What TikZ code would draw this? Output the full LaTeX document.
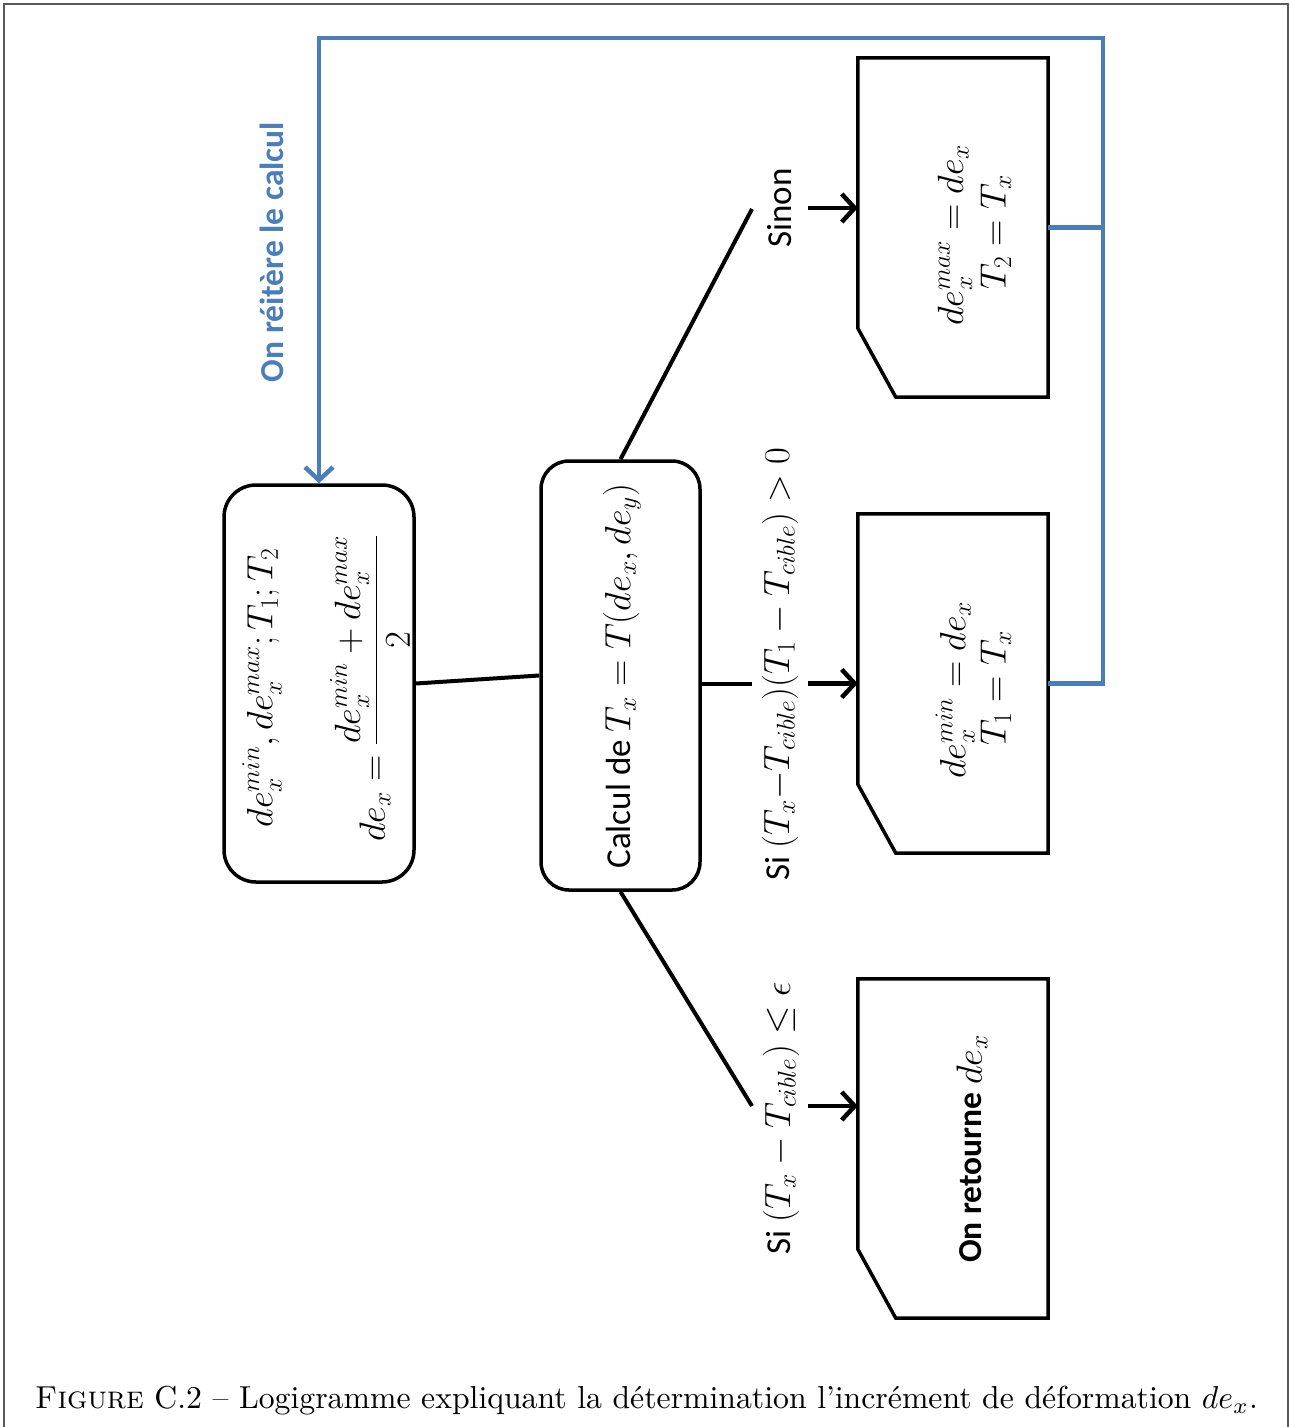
\RequirePackage{fix-cm}
\documentclass[tikz,border=0pt]{standalone}
\usepackage{fontspec}
\newfontfamily\carlito{Carlito}
\usetikzlibrary{arrows.meta}
\definecolor{loopblue}{RGB}{74,126,187}
\definecolor{framegray}{RGB}{90,90,90}
\newcommand{\tsz}{\fontsize{35}{40}\selectfont}
\newcommand{\bsz}{\fontsize{33.5}{38}\selectfont}
\newcommand{\msz}{\fontsize{36.5}{42}\selectfont}
\newcommand{\M}[1]{{\msz$#1$}}
\tikzset{
  box/.style={draw, line width=3.5pt, rounded corners=32pt, inner sep=0pt},
  cutbox/.style={inner sep=0pt, minimum width=190pt, minimum height=339pt},
  outline/.style={line width=3.5pt, line join=miter},
  link/.style={line width=4pt},
  flow/.style={line width=4.5pt, -{Straight Barb[length=13pt,width=28pt,line width=4.5pt]}},
  loopline/.style={draw=loopblue, line width=4.5pt},
  lbl/.style={rotate=90, inner sep=0pt, font=\carlito\tsz},
  mlbl/.style={rotate=90, inner sep=0pt, font=\msz},
}
\begin{document}
\begin{tikzpicture}[x=1pt,y=-1pt]
\useasboundingbox (0,0) rectangle (1290,1427);
\draw[framegray, line width=1.5pt] (4,1427) -- (4,4) -- (1288,4) -- (1288,1427);

% left box
\node[box, minimum width=190pt, minimum height=397pt] (A) at (319,683.5) {};
\node[mlbl] (A1) at (262,688) {$de_x^{min}, de_x^{max}; T_1; T_2$};
\node[mlbl] (A2) at (370,688) {$\displaystyle de_x = \frac{de_x^{min}+de_x^{max}}{2}$};

% central box
\node[box, rounded corners=28pt, minimum width=159pt, minimum height=429pt] (B) at (620.5,675.5) {};
\node[lbl] (Bt) at (622,676) {Calcul de \M{T_x = T(de_x, de_y)}};

% right boxes
\node[cutbox] (C1) at (953,227.5) {};
\node[cutbox] (C2) at (953,683.5) {};
\node[cutbox] (C3) at (953,1148.5) {};
\foreach \c in {C1,C2,C3}{
  \draw[outline] (\c.north west) -- (\c.north east) -- (\c.south east)
    -- ([xshift=38pt]\c.south west) -- ([yshift=69pt]\c.south west) -- cycle;
}
\node[mlbl] (C1a) at (955,235) {$de_x^{max} = de_x$};
\node[mlbl] (C1b) at (996,232) {$T_2 = T_x$};
\node[mlbl] (C2a) at (955,690) {$de_x^{min} = de_x$};
\node[mlbl] (C2b) at (996,688) {$T_1 = T_x$};
\node[lbl, font=\carlito\bfseries\bsz] (C3t) at (972,1149) {On retourne \M{de_x}};

% branch labels
\node[lbl] (L1) at (780,208) {Sinon};
\node[lbl] (L2) at (780,664) {Si \M{(T_x{-}T_{cible})(T_1 - T_{cible}) > 0}};
\node[lbl] (L3) at (781,1118) {Si \M{(T_x - T_{cible}) \le \epsilon}};

% connectors
\coordinate (j1) at (752,209);
\coordinate (j2) at (752,683.5);
\coordinate (j3) at (752,1106);
\draw[link] (A.east) -- (B.west);
\draw[link] (B.north) -- (j1);
\draw[link] (B.south) -- (j3);
\draw[link] (B.east |- C2.west) -- (j2);
\coordinate (s1) at (808,208);
\coordinate (s2) at (808,683.5);
\coordinate (s3) at (808,1106);
\draw[flow] (s1) -- (s1 -| C1.west);
\draw[flow] (s2) -- (s2 -| C2.west);
\draw[flow] (s3) -- (s3 -| C3.west);

% loop back
\coordinate (lp) at (1103,38);
\draw[loopline, -{Straight Barb[length=13pt,width=28pt,line width=4.5pt]}] (C2.east) -| (lp) -| (A.north);
\draw[loopline] (C1.east) -- (C1.east -| lp);
\node[lbl, font=\carlito\bfseries\bsz, text=loopblue] (loopl) at (272,252) {On réitère le calcul};

% caption
\node[inner sep=0pt] (cap) at (646.5,1401) {\resizebox{1223pt}{!}{\textsc{Figure} C.2 – Logigramme expliquant la détermination l'incrément de déformation $de_x$.}};
\end{tikzpicture}
\end{document}
